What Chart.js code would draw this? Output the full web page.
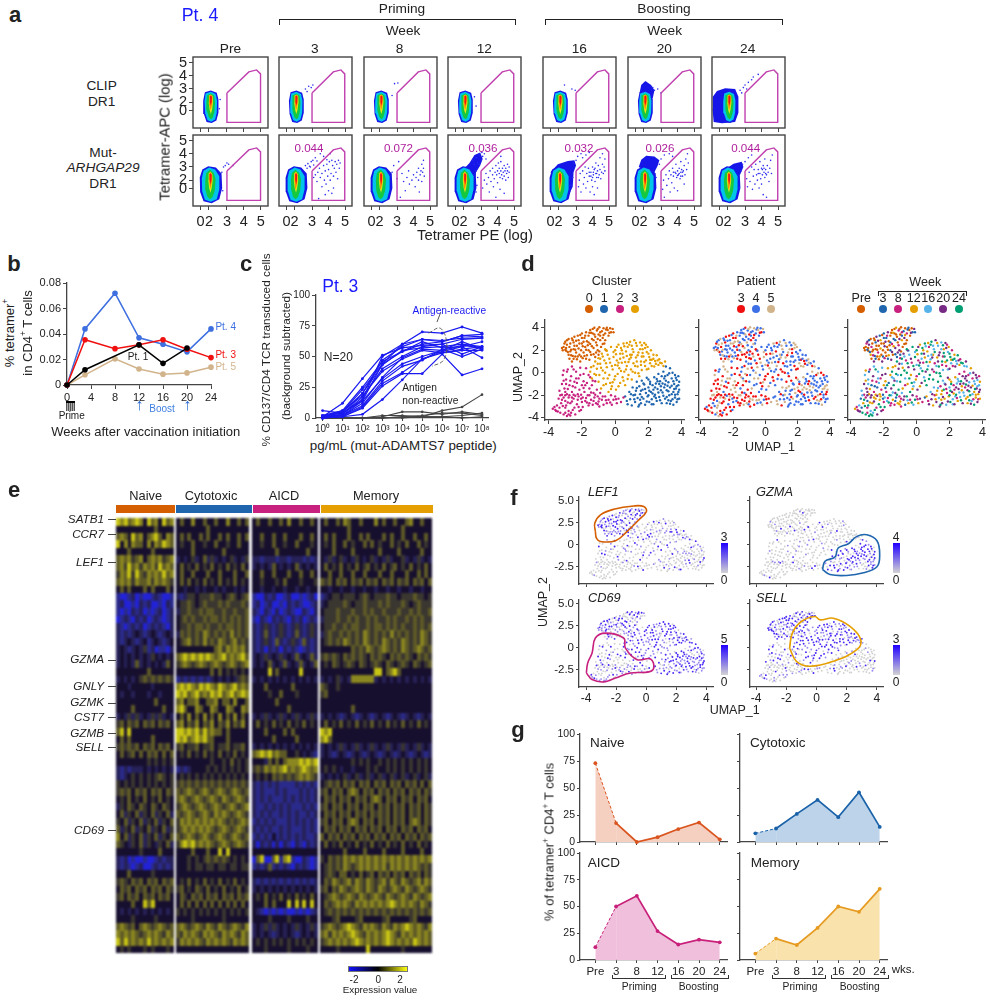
<!DOCTYPE html>
<html>
<head>
<meta charset="utf-8">
<title>Tetramer+ CD4 T cells</title>
<script src="https://cdn.jsdelivr.net/npm/chart.js@4"></script>
<style>
  body { margin: 0; background: #fff; }
  #page { position: relative; width: 990px; height: 1000px; overflow: hidden; font-family: "Liberation Sans", Arial, sans-serif; color: #222; }
  #page canvas { position: absolute; }
  .t { position: absolute; white-space: nowrap; line-height: 1; }
  .t sup { font-size: 65%; line-height: 0; }
  .box { position: absolute; box-sizing: border-box; }
</style>
</head>
<body>
<div id="page"></div>
<script>
// ---- panel a: flow plots ----
const flowWeeks = ['Pre', '3', '8', '12', '16', '20', '24'];
const flowLeft = [192.5, 276.9, 361.6, 446.3, 541.3, 626.3, 709.7];
const flowPercent = ['', '0.044', '0.072', '0.036', '0.032', '0.026', '0.044'];
const gateOutline = [[3,2.69],[4.29,4.29],[4.75,4.44],[4.98,4.14],[4.98,0.47],[3,0.47],[3,2.69]];
const densityColors = ['#1616e8', '#00c4e8', '#14c840', '#e8e814', '#ff8c00', '#f01414'];
const clipBlob = [
  [[1.7,2.75],[2.05,2.88],[2.4,2.72],[2.5,2.2],[2.5,1.2],[2.38,0.6],[2.1,0.42],[1.8,0.5],[1.64,1.1],[1.6,2.1],[1.7,2.75]],
  [[1.74,2.65],[2.05,2.78],[2.33,2.62],[2.42,2.1],[2.4,1.2],[2.3,0.68],[2.08,0.52],[1.86,0.62],[1.72,1.15],[1.68,2.05],[1.74,2.65]],
  [[1.84,2.52],[2.05,2.66],[2.24,2.5],[2.3,2],[2.26,1.25],[2.16,0.82],[2.06,0.7],[1.93,0.85],[1.82,1.35],[1.79,2],[1.84,2.52]],
  [[1.94,2.5],[2.05,2.58],[2.16,2.46],[2.18,2],[2.12,1.4],[2.05,1.1],[1.98,1.4],[1.92,2],[1.94,2.5]],
  [[1.96,2.48],[2.05,2.55],[2.14,2.44],[2.14,2],[2.08,1.6],[2.03,1.4],[1.98,1.7],[1.95,2.1],[1.96,2.48]],
  [[2,2.45],[2.06,2.5],[2.12,2.4],[2.1,2],[2.05,1.75],[2,2],[2,2.45]]
];
const mutBlob = [
  [[1.55,2.8],[1.9,3.05],[2.35,2.95],[2.68,2.5],[2.72,1.4],[2.55,0.55],[2.1,0.25],[1.62,0.4],[1.42,1.1],[1.4,2.2],[1.55,2.8]],
  [[1.62,2.72],[1.95,2.95],[2.3,2.8],[2.55,2.3],[2.55,1.3],[2.4,0.55],[2.05,0.36],[1.7,0.52],[1.54,1.15],[1.52,2.15],[1.62,2.72]],
  [[1.78,2.55],[2,2.78],[2.22,2.55],[2.33,2.05],[2.28,1.2],[2.15,0.72],[2,0.55],[1.85,0.75],[1.74,1.25],[1.72,2],[1.78,2.55]],
  [[1.92,2.5],[2.03,2.65],[2.14,2.45],[2.16,2],[2.1,1.4],[2.03,1.05],[1.95,1.4],[1.9,2],[1.92,2.5]],
  [[1.95,2.48],[2.03,2.6],[2.12,2.42],[2.12,2],[2.07,1.6],[2.02,1.35],[1.97,1.7],[1.94,2.1],[1.95,2.48]],
  [[1.98,2.45],[2.04,2.52],[2.1,2.4],[2.09,2],[2.04,1.65],[1.99,2],[1.98,2.45]]
];
const clip20Cloud = [[1.7,2.7],[1.8,3.3],[2.05,3.6],[2.4,3.3],[2.6,2.9],[2.5,2.3],[1.7,2.7]];
const clip24Cloud = [[1.05,2.4],[1.3,2.85],[1.8,3.05],[2.4,3.0],[2.6,2.4],[2.6,1.2],[2.4,0.5],[1.6,0.4],[1.1,0.5],[1.03,1.5],[1.05,2.4]];
const mut12Cloud = [[2,2.9],[2.3,3.3],[2.6,3.9],[2.95,4.1],[3.1,3.6],[2.95,3.1],[2.7,2.6],[2.6,2],[2.2,2.5],[2,2.9]];
const mut16Cloud = [[1.45,2.6],[1.9,3.2],[2.5,3.45],[2.9,3.5],[3,3.1],[2.85,2.6],[2.8,1.5],[2.6,1],[2.3,2],[1.45,2.6]];
const mut20Cloud = [[1.65,3],[1.8,3.55],[2.1,3.85],[2.6,3.8],[2.9,3.5],[2.8,3.1],[2.6,2.6],[2.1,2.7],[1.65,3]];
const mut24Cloud = [[1.9,2.9],[2.3,3.25],[2.8,3.4],[2.9,3],[2.7,2.4],[2.4,2.5],[1.9,2.9]];
const clipDots = [
  [[2.6,2.2],[2.55,1.5]],
  [[2.6,3],[2.8,3.2],[2.95,3.1],[3.05,3.3],[2.7,2.8]],
  [[2.7,2.5],[2.85,3.4],[3.05,3.45]],
  [[2.6,2.4],[2.7,1.7]],
  [[2.3,3.3],[2.75,3],[2.95,2.9]],
  [[2.5,3.1],[2.8,3.0],[3.0,2.7],[2.6,2.9]],
  [[2.7,2.9],[2.9,3.1],[3,3.3],[3.2,3.5],[3.4,3.7],[3.5,3.9],[3.8,4.1],[3.1,3],[2.8,2.7]]
];
const mutPreDots = [[2.7,2.6],[2.8,3],[2.9,3.1],[3,3.3],[3.1,3.2],[2.75,1.2],[3.35,3.1]];
const mut3Dots = [[2.6,3.1],[2.7,2.9],[2.75,3.25],[2.85,3.05],[2.95,3.4],[3.05,3.5],[3.1,3.15],[2.9,3.0],[3.2,3.7],[3.3,3.45],[3.5,4],[3.7,3.8],[3.9,3.55],[4.1,4.0],[4.2,3.5],[3.1,2.2],[3.2,2.4],[3.3,1.9],[3.35,2.6],[3.45,2.9],[3.5,2.2],[3.6,1.5],[3.6,2.5],[3.7,3.1],[3.75,2],[3.8,2.7],[3.85,1.7],[3.9,3.2],[3.95,2.3],[4,1.2],[4,2.8],[4.05,3.4],[4.1,2],[4.15,2.5],[4.2,1],[4.25,3.1],[4.3,2.3],[4.35,2.9],[4.4,3.4],[4.45,2.6],[4.5,3.2],[4.55,2.1],[4.6,3.5],[4.65,2.9],[4.7,3.3],[3.4,0.6],[3.8,0.9],[4.3,1.4]];
const mut8Dots = [[2.7,2.6],[2.8,3.1],[3.1,3.4],[3,2.1],[3.3,2.5],[3.4,1.9],[3.5,1.2],[3.6,2.2],[3.7,2.7],[3.75,1.7],[3.9,2],[4,2.4],[4.1,1.5],[4.15,2.2],[4.2,2.6],[4.3,2],[4.3,2.9],[4.4,2.4],[4.45,2.7],[4.5,3.2],[4.55,2.6],[4.6,2.9],[4.6,3.5],[4.65,2.3],[3.2,0.7],[4.35,1.1],[4.5,1.9]];
const mut12Dots = [[3.1,1.4],[3.2,2],[3.3,2.5],[3.35,1.7],[3.45,2.2],[3.5,1.1],[3.55,2.7],[3.6,1.9],[3.7,2.4],[3.7,2.9],[3.75,1.5],[3.8,2.1],[3.85,2.6],[3.9,3.1],[3.95,2.4],[4,2.7],[4,1.8],[4.05,3.3],[4.1,2.5],[4.1,2.9],[4.15,2.2],[4.15,1.3],[4.2,2.7],[4.2,3.4],[4.25,2.4],[4.3,2.9],[4.3,2.1],[4.35,2.6],[4.4,3.1],[4.4,2.3],[4.45,2.7],[4.5,2.9],[4.5,2],[4.55,2.5],[4.6,3.2],[4.6,2.7],[4.65,2.2],[4.7,2.6],[4.7,3],[4.4,1.0],[3.9,0.7],[4.2,3.8],[2.6,3.2],[2.7,3.7],[2.8,3.3],[2.9,3.9],[3,3.5],[3.1,3.8],[3.2,4],[3.3,3.6],[2.5,3.5],[2.9,3.2],[3.05,4.1],[2.7,2.7],[2.8,2.2],[2.75,1.6],[2.7,1.1]];
const mut16Dots = [[2.7,1.6],[2.8,2.2],[2.85,3.3],[3,3.5],[3.1,3.8],[3.3,4],[3.4,3.7],[3.6,3.9],[3.8,4.1],[3.15,1.5],[3.2,2],[3.25,2.5],[3.3,1.1],[3.4,2.7],[3.45,1.7],[3.5,2.2],[3.55,3],[3.6,1.4],[3.65,2.5],[3.7,1.9],[3.75,2.9],[3.8,2.3],[3.85,1.1],[3.9,2.6],[3.95,2],[4,3],[4,1.5],[4.05,2.4],[4.1,2.8],[4.1,0.9],[4.15,1.9],[4.2,2.5],[4.2,3.3],[4.25,2.2],[4.3,2.7],[4.3,1.4],[4.35,3.1],[4.4,2.4],[4.45,2.8],[4.45,3.7],[4.5,2.1],[4.55,2.6],[4.6,3.2],[4.6,4],[4.65,2.5],[4.7,3],[4.75,3.6],[4.75,2.7],[3.9,2.3],[4.05,2.6],[4.15,2.9],[4.25,2.5],[4.35,2.2],[3.8,2.6],[4,2.2]];
const mut20Dots = [[2.7,2.2],[2.9,3.2],[3,3.6],[3.2,3.9],[3.5,4],[3.7,3.8],[3.1,1.3],[3.15,2],[3.2,0.7],[3.3,2.4],[3.35,1.6],[3.45,2.1],[3.5,2.7],[3.55,1.1],[3.6,2.4],[3.65,1.8],[3.7,2.9],[3.75,2.3],[3.8,1.4],[3.85,2.6],[3.9,3.2],[3.95,2.2],[4,2.7],[4,1.2],[4.05,2.4],[4.1,2.9],[4.15,2.1],[4.2,2.6],[4.2,3.4],[4.25,2.8],[4.3,2.3],[4.35,2.7],[4.4,3.1],[4.4,1.7],[4.45,2.4],[4.5,3.6],[4.55,2.8],[4.6,4.0],[4.65,3.3],[3.9,2.5],[4.1,2.5],[4.3,2.6],[3.75,2.6],[4.0,2.35],[4.2,2.3]];
const mut24Dots = [[2.6,2.1],[2.65,1.4],[2.75,2.7],[2.85,3.2],[3,3.4],[3.2,3.7],[3.4,3.9],[3.1,2.1],[3.15,1.5],[3.25,2.6],[3.3,1.9],[3.4,3],[3.45,1.3],[3.5,2.3],[3.55,2.8],[3.6,1.7],[3.65,3.2],[3.7,2.4],[3.75,2],[3.8,2.8],[3.85,1.4],[3.9,2.5],[3.9,3.4],[3.95,2.1],[4,2.9],[4,1.7],[4.05,2.4],[4.1,3.1],[4.1,0.9],[4.15,2.6],[4.2,2.2],[4.2,3.6],[4.25,2.8],[4.3,2.4],[4.35,3.1],[4.4,2.6],[4.45,1.9],[4.5,2.9],[4.55,3.5],[4.6,2.5],[4.65,3.9],[4.3,0.7],[3.8,2.5],[4.05,2.8],[4.15,2.9],[4.25,2.5]];
const mutDots = [mutPreDots, mut3Dots, mut8Dots, mut12Dots, mut16Dots, mut20Dots, mut24Dots];
const clipClouds = [null, null, null, null, null, clip20Cloud, clip24Cloud];
const mutClouds = [null, null, null, mut12Cloud, mut16Cloud, mut20Cloud, mut24Cloud];

// ---- panel b ----
const weeksB = [0, 3, 8, 12, 16, 20, 24];
const pt5Values = [0, 0.008, 0.0205, 0.0125, 0.0085, 0.0095, 0.014];
const pt4Values = [0, 0.044, 0.072, 0.037, 0.032, 0.026, 0.044];
const pt3Values = [0, 0.0355, 0.0285, 0.0315, 0.0355, 0.028, 0.0215];
const pt1Values = [0, 0.012, null, 0.0315, 0.017, 0.029, null];

// ---- panel c ----
const doses = [1, 10, 100, 1e3, 1e4, 1e5, 1e6, 1e7, 1e8];
const doseLabels = ['10⁰', '10¹', '10²', '10³', '10⁴', '10⁵', '10⁶', '10⁷', '10⁸'];
const reactiveCurves = [
  [2,4,14,44,60,70,69,74,69], [6,4,15,50,60,64,62,67,68], [1,3,20,47,58,64,63,65,65],
  [1,12,32,51,57,59,60,64,65], [1,6,25,46,54,62,57,58,62], [2,5,23,44,54,60,62,67,66],
  [0,5,20,43,55,57,58,60,58], [1,3,17,40,50,58,60,52,58], [1,2,12,33,49,56,55,59,57],
  [0,2,14,32,44,50,55,62,56], [1,2,10,30,42,47,56,50,56], [0,1,9,28,37,48,54,58,49],
  [0,1,8,26,36,36,52,35,40], [0,1,3,15,31,48,53,55,55], [2,6,18,38,48,55,53,56,58]
];
const nonReactiveCurves = [
  [0,0,0,0,1,1,6,9,19], [0,0,0,1,5,5,3,5,3], [0,0,0,0,1,2,4,4,2], [0,0,0,0,0,1,1,2,4], [0,0,0,2,2,1,1,0,1]
];
const reactiveArc = [[2.1e5,69],[8e5,73],[1.7e6,61],[1.15e6,47],[3.1e5,42]];
const reactiveLeader = [[5.5e5,78],[8.5e5,86]];

// ---- panels d and f: UMAP cells by cluster ----
const cluster0 = [[-3.2,2.2],[-3.1,2.3],[-3,2.05],[-2.9,2.5],[-2.9,2.9],[-2.8,3],[-2.75,2.3],[-2.7,1.9],[-2.8,1.6],[-2.75,1.25],[-2.6,1.0],[-2.55,1.5],[-2.5,2.1],[-2.5,2.7],[-2.45,3.2],[-2.35,1.8],[-2.3,1.2],[-2.3,2.4],[-2.25,3.3],[-2.2,2.9],[-2.15,1.6],[-2.1,1.0],[-2.05,2.0],[-2,3.5],[-2,2.6],[-1.95,1.3],[-1.9,1.8],[-1.85,3.1],[-1.8,2.3],[-1.75,3.6],[-1.7,1.55],[-1.7,2.8],[-1.6,3.3],[-1.6,2.0],[-1.55,1.15],[-1.5,3.8],[-1.5,2.55],[-1.45,1.6],[-1.4,3.0],[-1.35,3.5],[-1.3,2.2],[-1.25,4.0],[-1.2,3.2],[-1.2,1.4],[-1.15,2.7],[-1.1,3.75],[-1.05,2.0],[-1,3.4],[-1,1.6],[-0.95,4.05],[-0.9,2.9],[-0.85,2.3],[-0.8,3.7],[-0.75,3.1],[-0.7,3.95],[-0.65,2.6],[-0.6,3.5],[-0.55,2.0],[-0.5,4.0],[-0.45,3.8],[-0.4,3.3],[-0.3,3.95],[-0.25,3.6],[-0.15,3.9],[-0.1,3.6],[-2.65,2.05],[-3.05,2.6],[-2.6,3.05],[-2.2,2.15],[-1.65,2.45],[-1.9,2.75],[-1.3,2.9],[-2.4,1.45],[-1.75,1.25],[-1.15,1.8],[-0.9,3.6],[-2.95,1.95],[-2.45,2.4],[-2.0,3.1],[-1.45,3.55],
  [-3.15,2.0],[-3.0,2.75],[-2.95,2.2],[-2.85,1.85],[-2.7,2.6],[-2.65,1.55],[-2.55,2.9],[-2.5,1.25],[-2.4,2.05],[-2.35,2.85],[-2.25,1.45],[-2.15,2.6],[-2.1,3.35],[-2.05,1.45],[-1.95,2.35],[-1.85,1.5],[-1.8,3.3],[-1.75,2.05],[-1.6,2.7],[-1.55,3.55],[-1.5,1.85],[-1.4,2.35],[-1.35,3.9],[-1.3,1.65],[-1.25,3.4],[-1.1,2.45],[-1.05,3.0],[-0.95,1.9],[-0.9,3.3],[-0.75,2.55],[-0.7,3.35],[-0.6,2.9],[-0.55,3.85],[-0.35,3.55],[-1.05,3.9]];
const cluster1 = [[0.6,-2.1],[0.75,-2.8],[0.85,-1.7],[0.9,-2.35],[1,-2.9],[1.05,-1.3],[1.1,-2.0],[1.2,-2.6],[1.25,-1.6],[1.3,-0.8],[1.35,-2.25],[1.4,-3.0],[1.45,-1.2],[1.5,-1.9],[1.55,-2.7],[1.6,-0.7],[1.65,-1.5],[1.7,-2.3],[1.75,-1.05],[1.8,-2.85],[1.85,-1.8],[1.9,-0.45],[1.95,-2.1],[2,-1.3],[2.05,-2.6],[2.1,-0.8],[2.15,-1.7],[2.2,-2.35],[2.25,-1.1],[2.3,-2.8],[2.35,-0.4],[2.4,-1.95],[2.45,-0.95],[2.5,-2.5],[2.55,-1.45],[2.6,-0.1],[2.65,-2.15],[2.7,-0.75],[2.75,-1.2],[2.8,-2.7],[2.85,-1.75],[2.9,0.1],[2.95,-0.5],[3,-2.3],[3,-1.05],[3.05,0.55],[3.1,-1.55],[3.1,-2.7],[3.15,-0.2],[3.2,-0.85],[3.25,-2.0],[3.3,0.4],[3.3,-1.3],[3.35,-2.5],[3.4,-0.5],[3.45,0],[3.5,-1.7],[3.5,-2.85],[3.55,-1.0],[3.6,-0.2],[3.6,-2.2],[3.65,-1.4],[3.7,-0.65],[3.7,-2.6],[3.75,-1.9],[3.8,-1.1],[3.8,-0.3],[3.85,-1.5],[3.85,-2.3],[2.1,-1.0],[2.6,-1.75],[3.15,-1.15],[2.3,-1.5],[1.5,-2.4],[2.85,-0.95],[3.4,-1.9],[2.0,-2.0],[1.2,-1.95],[3.0,-0.3],[2.5,-0.55],
  [0.7,-2.5],[0.95,-1.9],[1.15,-2.35],[1.3,-1.35],[1.45,-2.85],[1.55,-1.6],[1.6,-2.15],[1.7,-0.95],[1.8,-1.45],[1.9,-2.55],[2,-0.6],[2.05,-1.6],[2.2,-2.8],[2.25,-1.85],[2.4,-1.3],[2.45,-2.25],[2.55,-0.75],[2.7,-2.45],[2.75,-1.55],[2.8,-0.3],[2.9,-2.05],[2.95,-1.3],[3.05,-0.7],[3.1,-2.15],[3.2,-1.65],[3.25,-0.05],[3.3,-2.75],[3.4,-1.15],[3.45,-2.35],[3.5,-0.75],[3.55,-1.45],[3.6,-1.95],[3.65,-0.45],[3.7,-1.2],[3.75,-2.35],[3.8,-1.7],[3.85,-0.8],[3.2,-2.45],[2.35,-2.1],[2.65,-1.0]];
const cluster2 = [[-3.75,-3.2],[-3.6,-3.3],[-3.5,-2.9],[-3.45,-3.45],[-3.4,-2.3],[-3.3,-3.55],[-3.25,-2.7],[-3.2,-1.95],[-3.2,-1],[-3.15,-0.2],[-3.1,-3.7],[-3.1,-2.2],[-3.1,0.2],[-3.05,-1.4],[-3,-3.1],[-3,-2.5],[-2.95,-0.6],[-2.9,-3.85],[-2.9,-1.9],[-2.85,0.3],[-2.8,-2.2],[-2.8,-3.4],[-2.75,-1.1],[-2.7,-3.8],[-2.7,-2.7],[-2.65,-0.3],[-2.6,-1.7],[-2.6,0.55],[-2.55,-3.3],[-2.5,-2.3],[-2.45,-0.8],[-2.4,-3.7],[-2.4,-1.3],[-2.35,0.1],[-2.3,-2.8],[-2.25,-1.9],[-2.2,-0.5],[-2.15,-3.4],[-2.1,0.45],[-2.05,-2.3],[-2,-1.1],[-1.95,-3.05],[-1.9,-0.1],[-1.85,-1.7],[-1.8,-2.5],[-1.75,0.4],[-1.7,-0.9],[-1.65,-2.0],[-1.6,-2.9],[-1.55,-1.4],[-1.5,-0.4],[-1.45,-2.4],[-1.4,-1.1],[-1.35,-2.85],[-1.3,-1.8],[-1.25,-2.2],[-1.2,-0.75],[-1.15,-2.7],[-1.1,-1.5],[-1.05,-2.1],[-1,-2.55],[-0.95,-3.0],[-0.9,-1.8],[-0.8,-2.4],[-0.7,-2.85],[-0.6,-2.1],[-0.5,-2.7],[-0.4,-2.4],[-0.25,-2.0],[-0.2,-2.85],[-0.1,-2.4],[0,-2.1],[0.1,-2.7],[0.2,-2.3],[0.35,-2.6],[0.5,-2.2],[-3.35,-1.6],[-2.95,-2.9],[-2.5,-1.95],[-2.0,-2.6],[-3.0,-1.7],[-2.3,-0.9],[-1.9,-1.35],[-1.7,-2.65],[-2.85,-1.45],[-2.6,-2.55],[-2.05,-3.3],[-1.55,-2.0],[-3.2,-2.4],[-2.2,-2.1],
  [-3.65,-3.05],[-3.55,-3.4],[-3.35,-3.1],[-3.3,-2.0],[-3.15,-2.95],[-3.1,-0.7],[-3,-3.55],[-3,-2],[-2.95,-1.0],[-2.9,0.1],[-2.85,-2.65],[-2.8,-3.7],[-2.75,-2],[-2.7,-0.7],[-2.65,-3.55],[-2.6,-2.2],[-2.55,-1.2],[-2.5,0.3],[-2.45,-3.1],[-2.4,-2.05],[-2.35,-0.5],[-2.25,-2.4],[-2.2,-3.05],[-2.15,-1.5],[-2.1,-0.2],[-2.05,-1.95],[-1.95,-2.2],[-1.9,-0.75],[-1.8,-1.1],[-1.75,-2.25],[-1.6,-0.2],[-1.55,-2.7],[-1.45,-1.75],[-1.35,-0.7],[-1.3,-2.5],[-1.2,-1.95],[-1.05,-2.8],[-0.95,-2.3],[-0.75,-2.1],[-0.55,-2.45],[-0.3,-2.65],[0.05,-2.35]];
const cluster3 = [[-1.5,0.1],[-1.4,-0.5],[-1.3,0.6],[-1.2,1.0],[-1.1,0.35],[-1,1.3],[-1,-0.8],[-0.9,0.8],[-0.85,-1.4],[-0.8,1.7],[-0.75,0.2],[-0.7,-0.5],[-0.65,1.1],[-0.6,2.1],[-0.55,-1.0],[-0.5,0.5],[-0.45,1.6],[-0.4,-1.7],[-0.35,-0.2],[-0.3,0.9],[-0.25,2.3],[-0.2,-1.2],[-0.15,0.3],[-0.1,1.4],[-0.05,-0.6],[0,2.0],[0,0.7],[0.05,-1.5],[0.1,1.1],[0.15,-0.1],[0.2,2.5],[0.25,0.4],[0.3,1.7],[0.3,-0.9],[0.35,2.2],[0.4,0.9],[0.45,-0.4],[0.5,1.35],[0.5,2.6],[0.55,0.1],[0.6,-1.1],[0.65,1.9],[0.7,0.6],[0.75,2.3],[0.8,-0.2],[0.85,1.2],[0.9,2.75],[0.95,0.3],[1,1.6],[1,-0.6],[1.05,2.1],[1.1,0.85],[1.15,2.9],[1.2,0],[1.25,1.35],[1.3,2.4],[1.35,0.55],[1.4,1.8],[1.45,-0.3],[1.5,2.7],[1.55,1.0],[1.6,0.25],[1.65,2.1],[1.7,1.45],[1.75,2.65],[1.8,0.6],[1.85,1.1],[1.9,1.85],[1.95,2.3],[2,0.35],[2.05,1.4],[2.1,0.85],[2.15,2.0],[2.2,1.15],[2.3,1.6],[2.35,0.55],[2.4,1.05],[2.5,1.55],[2.6,0.7],[2.65,1.2],[2.8,0.85],[2.9,0.6],[3,1.0],[-0.6,0.0],[0.05,1.65],[0.6,0.95],[0.9,1.6],[1.3,1.0],[1.6,1.45],[-0.3,-0.9],[0.4,2.0],[1.0,2.4],[-0.9,1.25],[0.2,0.9],[0.75,-0.55],[1.85,2.5],[-1.15,-0.2],
  [-1.45,0.5],[-1.25,-0.1],[-1.05,0.8],[-0.95,-0.2],[-0.85,0.45],[-0.75,1.45],[-0.7,-1.1],[-0.55,0.85],[-0.5,1.95],[-0.45,-0.5],[-0.35,1.25],[-0.25,-1.45],[-0.2,0.6],[-0.1,1.85],[0,-0.3],[0.1,2.3],[0.15,0.65],[0.2,-1.2],[0.3,1.25],[0.35,0.15],[0.45,1.7],[0.5,-0.7],[0.55,2.35],[0.65,0.3],[0.7,1.5],[0.8,0.95],[0.85,2.5],[0.95,1.35],[1.05,0.1],[1.1,1.85],[1.2,0.6],[1.25,2.65],[1.35,1.55],[1.4,-0.05],[1.5,2.1],[1.55,0.7],[1.65,1.75],[1.75,0.95],[1.8,2.2],[1.9,0.3],[2,1.7],[2.1,1.15],[2.2,0.6],[2.3,1.25],[2.45,0.8],[2.55,1.1],[2.7,0.9],[0.7,2.65],[1.6,2.45],[-0.15,-0.85]];
const clusterCells = [cluster0, cluster1, cluster2, cluster3];
const clusterNames = ['0', '1', '2', '3'];
const clusterColors = ['#d55e00', '#1f66ae', '#c8207f', '#e69f00'];
const patientNames = ['3', '4', '5'];
const patientColors = ['#f01010', '#3d6fe6', '#d2b48c'];
const weekNames = ['Pre', '3', '8', '12', '16', '20', '24'];
const weekColors = ['#d55e00', '#1f66ae', '#c8207f', '#e69f00', '#56b4e9', '#762a83', '#009e73'];
// per-cell codes, one string per cluster
const patientCodes = [
  '110212011021100121012110221011021101201120102110120110211012',
  '121102121011211012112012110121201121102112101211012112101210',
  '000200120210002102012020001202100210200120021002012002100200',
  '110120112012101201121012012110120112012110210120112010211201'
];
const weekCodes = [
  '001510203051015200130501020105300150201053010250103015002510',
  '354534253645235463542534635425364352463542536453246354253645',
  '324516325462352146325416352463251463254136524316254362514362',
  '643652643564263546326456364526346562436563426465364256346564'
];
const lef1Codes = [
  '212012102120121021201120212102120121102120120212012101212012',
  '001000020010001000200100010002001000100020001000100200010001',
  '000100000200000100000020000100000100002000010000001000200000',
  '010200100120010002100201001020001201002100102001020010120010'
];
const gzmaCodes = [
  '000000100000000200000000010000000000020000000100000000000200',
  '120212021012201210220120212101220120212012201210220120212012',
  '000100000020000000100000000200000001000000100000020000000100',
  '000010000200000100000001000000200000100000010000020000001000'
];
const cd69Codes = [
  '120102120012102012001210201201012010212012010210120120102120',
  '212121021212102121221012121021212210212121021212101212121021',
  '010201002010120100201002010010201200100201001020100120010201',
  '212101212212021212120212121012212102121221202121012121210212'
];
const sellCodes = [
  '212021202121012120212102120212012120212021210212021212012102',
  '000100020000100001000020001000100000200010000100002000100000',
  '100201000201010020010100201000102001000201010020100010200100',
  '212122021212212102121221212021221212012212122102121221202121'
];
const exprColors = ['#d2d2d2', '#9c8cf0', '#4a28f5'];
const lef1Outline = [[-3.38,1.5],[-3.42,2.43],[-3.04,3.37],[-2.16,4.0],[-0.82,4.38],[-0.16,4.31],[0.02,3.75],[-0.49,2.81],[-1.27,1.5],[-2.04,0.45],[-3.04,0.37],[-3.31,0.75],[-3.38,1.5]];
const gzmaOutline = [[0.4,-2.8],[0.56,-1.87],[1.22,-1.39],[1.44,-0.37],[2.11,0.11],[2.67,0.94],[3.33,1.12],[4,0.45],[4.18,-1.12],[4,-2.5],[3.11,-3.18],[2,-3.48],[0.89,-3.37],[0.4,-2.8]];
const cd69Outline = [[-3.98,-2.85],[-3.89,-1.72],[-3.6,-0.6],[-3.38,1.09],[-2.71,1.65],[-1.49,1.09],[-1.38,-0.04],[-0.6,-1.35],[0.29,-1.27],[0.51,-2.28],[0.18,-2.73],[-1.04,-2.85],[-2.04,-3.41],[-2.82,-3.86],[-3.6,-3.6],[-3.98,-2.85]];
const sellOutline = [[-1.78,-0.04],[-1.6,1.65],[-1,2.96],[-0.11,3.52],[0.22,3.15],[1.11,3.33],[2.22,2.4],[2.93,0.9],[2.67,-0.22],[1.11,-1.54],[-0.44,-2.1],[-1.33,-1.54],[-1.78,-0.04]];

// ---- panel e: heat map, one row per gene, groups split by a space, digit = colour bin ----
const heatBins = ['#2222d8', '#2a2a8c', '#262158', '#170f2e', '#3a3630', '#5e5a26', '#8a8620', '#c8c414'];
const heatGroups = ['Naive', 'Cytotoxic', 'AICD', 'Memory'];
const heatGroupStart = [0, 15.5, 35.4, 53];
const heatGenes = ['SATB1', 'CCR7', 'LEF1', 'GZMA', 'GNLY', 'GZMK', 'CST7', 'GZMB', 'SELL', 'CD69'];
const heatGeneRows = [0.3, 2.3, 6, 18.9, 22.4, 24.6, 26.5, 28.6, 30.5, 41.4];
const heatRows = [
  '767567637563756 3533633533533633535 35335335363353353 35335365335333635335335633533',
  '333333333353333 3333333353333333333 33333333333333333 33333335333333333333353333333',
  '565375635675365 3535335353353533535 33533533533353353 35353335335353335353353353353',
  '736365536365765 3433533433533433533 33433533433533343 34353353433535343353435335343',
  '333533333533333 3333533333335333333 33333353333333533 33353333533333353333533333533',
  '565645635656456 2323423524232342324 22122212212221212 32423423243234232423342324232',
  '564756465647565 3534353435343534353 23232532323523232 35343534353453435345343534353',
  '465747546565756 3533533353353335335 33533533353353353 33533533533533353353335335353',
  '565646556465654 3535343534353435343 33433343533343334 54535453545354535453545354535',
  '353533353533353 3323323233232332323 33233233233233233 33233233233233233233233233233',
  '100120100121001 2124434445443454345 10021200120010120 12344344434543444544344454434',
  '120010212001021 3445434544454544454 12012001021210012 23444454344544454544454345444',
  '101021201012012 2445445455445445445 21021020121002102 34445444544545445444544545445',
  '012102120121012 3454544545545454545 10210212102120121 24445445454454544545445454544',
  '210121201212102 3445455454454554545 21242124212421242 34454454554454554545454454545',
  '212123212321232 2545454654545464545 21252124212521242 24544545454654545464545454654',
  '212321231232123 3456454645465456454 21242152124215212 34545465454654546545465454654',
  '232123241201102 3333333333564656564 21202120212101212 33333333545465456545465456545',
  '232323232432323 5676767676567565675 23242324232523252 45454354545435454354545435454',
  '232325232323253 4565456545654565456 23235232523252325 34354345435434543543454354345',
  '333333335333333 3333333335353434343 33337353333373333 33333333333333773567533333333',
  '232323454545454 1212121212323232454 23232323232323232 23234232666666232323232323232',
  '333233333233333 6767657676576567565 33353333335333333 54334333333333333333333333333',
  '323323332332333 7675675657675675676 33334335333433333 45333333333333333333333333333',
  '333333333353333 5635563355635536335 33333353333333333 33333333333333333333333333333',
  '333353333333533 6753365336533653365 33333333353333333 33333333533333333333333333333',
  '232424232424232 3536353635363536353 23242324232423242 23232123212321232123212321232',
  '453545354535453 5635463546354635463 35343534353435343 35343534353435343534353435343',
  '573733333333333 7767675756553533333 33353333535333333 76733333333333333333333333333',
  '353533333533333 7675676755333533333 33333533333533333 67533333333333333333333333333',
  '454545354535453 4534453445344534453 23232323232323232 23232423242324232423242324232',
  '353453535453535 3435343534353435343 56767565533432321 23212321232123212321232123212',
  '333333334343434 3333333334334353434 33325353566676767 33333333434343343434343434343',
  '212122232323232 1212333343434343434 45465656756567656 34343233233343433434343434343',
  '212343434345434 3434343434343434343 34343545454565654 23232342342342342342342342342',
  '434343434343434 4545454545454545454 21212121111212121 34545354535453545354535453535',
  '454535453545354 5456545654565456545 21211121211121212 45354535653545354535453545354',
  '343534353435343 5654565456546545654 21212111212121212 35453545354535653545354535453',
  '243543543543543 4565456545654565456 21121212121112121 45354535453545354535453545354',
  '352435243524352 5456545654656545654 21212112121211212 35453545354535454535453545354',
  '435243524352435 4656565656565454565 12121211121212121 45354535653545354535453565354',
  '524352435243524 4565656565456545654 21212112121112121 35453545354535453545354535453',
  '635243524352435 5456545654565456545 12121312121212112 53545354535453545354535453545',
  '543243524324352 4676756565456545654 20212020210210212 35343534353435343534353435343',
  '333333433335333 3333533353373733333 33333333333333333 33333353333533335333353333533',
  '212010010012122 3334343454545434343 05700571671002101 43545465656565656565656565656',
  '212101200121212 3334344344344344344 12125121210212101 34545465456565656465656565454',
  '333533333433333 3333333333333333333 33333333333333333 34543553435345354535453545354',
  '454354535453545 3435343534353435343 21212121212121212 35465456465465456465465456465',
  '354535453545354 4534354353435343534 23232323232323232 45354654565465465456546545654',
  '453545354535453 3543545354535453545 34353435343534353 34565456546545654654565465456',
  '333353375733333 3535353535353535353 33353533373737373 35456565465656565676565654654',
  '323232323232323 4343434343434343434 32101010100101012 34545454545454545454545454545',
  '333343333343333 3333433333334333333 33334333343333433 33345333345333334533333453333',
  '565453565456545 5654565465465456546 23242423232423242 45654567654656546546567656546',
  '656565456565465 5465654656546565465 23232123232123232 56465656765465656765465656565',
  '757565657565656 4656565465656546565 34343434343434343 45656565676565656765656576565',
  '343433343433343 3333333333333333333 33343333343333433 33334333333373333333343333333'
];

// ---- panel g ----
const stageLabels = ['Pre', '3', '8', '12', '16', '20', '24'];
const naiveShare = [73, 17.5, 0, 4.5, 12, 18, 2.5];
const cytotoxicShare = [8, 12.5, 26, 39, 23, 46, 14];
const aicdShare = [12, 50, 60, 27, 14.5, 19, 16.5];
const memoryShare = [6, 20, 14, 30, 50, 45, 66.5];

// ---- helpers ----
Chart.defaults.font.family = '"Liberation Sans", Arial, sans-serif';
Chart.defaults.color = '#222';
const page = document.getElementById('page');

function txt(html, x, y, size, o = {}) {
  const d = document.createElement('div');
  d.className = 't';
  d.innerHTML = html;
  d.style.left = x + 'px';
  d.style.top = y + 'px';
  d.style.fontSize = size + 'px';
  if (o.color) d.style.color = o.color;
  if (o.italic) d.style.fontStyle = 'italic';
  if (o.bold) d.style.fontWeight = 'bold';
  d.style.transform = (o.left ? 'translate(0,-50%)' : 'translate(-50%,-50%)') + (o.rot ? ' rotate(-90deg)' : '');
  page.appendChild(d);
}

function rect(x, y, w, h, css) {
  const d = document.createElement('div');
  d.className = 'box';
  d.style.cssText = `left:${x}px;top:${y}px;width:${w}px;height:${h}px;${css}`;
  page.appendChild(d);
}

// axis with tick values picked by hand
function axis(min, max, values, labels, size, o = {}) {
  return Object.assign({
    type: 'linear', min, max,
    afterBuildTicks: s => { s.ticks = values.map(v => ({ value: v })); },
    ticks: {
      autoSkip: false, maxRotation: 0, minRotation: 0, color: '#222', padding: o.pad === undefined ? 2 : o.pad,
      font: { size: size, style: o.style || 'normal' },
      callback: (v, i) => labels ? labels[i] : String(v)
    },
    grid: { drawOnChartArea: false, tickLength: o.tick === undefined ? 4 : o.tick, tickColor: '#444', tickWidth: 1 },
    border: { display: o.line !== false, color: '#444', width: o.lineWidth || 1.3 }
  }, o.extra || {});
}

const frameBox = {
  id: 'frameBox',
  afterDatasetsDraw(chart) {
    const a = chart.chartArea, c = chart.ctx;
    c.save();
    c.strokeStyle = '#444';
    c.lineWidth = 1.4;
    c.strokeRect(a.left, a.top, a.right - a.left, a.bottom - a.top);
    c.restore();
  }
};

// the plot area stays where it was asked for, label overflow must not shrink it
function pinScale(s, side, size) {
  s[side] = size;
  s.paddingLeft = s.paddingRight = s.paddingTop = s.paddingBottom = 0;
}

// box is the plot area in page pixels, l/b/t/r the room kept around it
function plot(box, l, b, t, r, scales, datasets, plugins) {
  const c = document.createElement('canvas');
  c.width = Math.round(box.w + l + r);
  c.height = Math.round(box.h + t + b);
  c.style.left = (box.x - l) + 'px';
  c.style.top = (box.y - t) + 'px';
  page.appendChild(c);
  scales.x.afterFit = s => pinScale(s, 'height', b);
  scales.y.afterFit = s => pinScale(s, 'width', l);
  return new Chart(c, {
    type: 'scatter',
    // Chart.js paints the first dataset last, the panels list them bottom to top
    data: { datasets: datasets.slice().reverse() },
    plugins: plugins || [],
    options: {
      responsive: false, animation: false, events: [],
      layout: { padding: { top: t, right: r, left: 0, bottom: 0 } },
      plugins: { legend: { display: false }, tooltip: { enabled: false } },
      scales
    }
  });
}

function dots(data, color, radius) {
  return { data, showLine: false, pointRadius: radius, pointBorderWidth: 0, pointBackgroundColor: color, clip: false };
}
function shape(data, color) {
  return { data, showLine: true, fill: 'shape', backgroundColor: color, borderWidth: 0, pointRadius: 0 };
}
function outline(data, color, width, tension) {
  return { data, showLine: true, fill: false, borderColor: color, borderWidth: width, pointRadius: 0, tension: tension || 0, clip: false };
}

// ---- draw panel a ----
function flowPlot(x, y, h, blob, cloud, extraDots, showX, showY) {
  const sets = [];
  if (cloud) sets.push(shape(cloud, densityColors[0]));
  blob.forEach((p, i) => sets.push(shape(p, densityColors[i])));
  sets.push(dots(extraDots, '#2a2af0', 0.8));
  sets.push(outline(gateOutline, '#c040b0', 1.4));
  const scales = {
    x: axis(1, 5.42, [1.45, 1.94, 3, 4, 5], showX ? ['0', '2', '3', '4', '5'] : ['', '', '', '', ''], 14.5, { line: false, tick: 4, pad: 3 }),
    y: axis(0.04, 5.42, showY ? [5, 4, 3, 2, 1.35] : [], ['5', '4', '3', '2', '0'], 14.5, { line: false, tick: 4, pad: 2 })
  };
  plot({ x, y, w: 75.5, h }, showY ? 22 : 2, showX ? 24 : 6, 6, 3, scales, sets, [frameBox]);
}
flowLeft.forEach((x, i) => {
  flowPlot(x, 56.5, 70.5, clipBlob, clipClouds[i], clipDots[i], false, i === 0);
  flowPlot(x, 135, 71, mutBlob, mutClouds[i], mutDots[i], true, i === 0);
  txt(flowWeeks[i], x + 38, 49, 13.7);
  if (flowPercent[i]) txt(flowPercent[i], [0, 309, 398.4, 483, 579, 660, 745.7][i], 148, 11.6, { color: '#b0209e' });
});
txt('a', 15, 15, 22, { bold: true });
txt('Pt. 4', 200, 16, 17.8, { color: '#1a1aff' });
txt('Priming', 402, 9, 13.7);
txt('Week', 403, 31, 13.7);
rect(279, 19, 237, 6, 'border:1.4px solid #222;border-bottom:none');
txt('Boosting', 664, 9, 13.7);
txt('Week', 664.7, 31, 13.7);
rect(545, 19, 238, 6, 'border:1.4px solid #222;border-bottom:none');
txt('CLIP', 101.6, 86, 13.7);
txt('DR1', 101.6, 101.7, 13.7);
txt('Mut-', 103, 152.7, 13.7);
txt('ARHGAP29', 103, 168, 13.7, { italic: true });
txt('DR1', 103, 184, 13.7);
txt('Tetramer-APC (log)', 164.6, 137, 14.8, { rot: true });
txt('Tetramer PE (log)', 475, 235, 14.8);

// ---- draw panel b ----
function weekLine(values, color) {
  return {
    data: weeksB.map((w, i) => [w, values[i]]), showLine: true, spanGaps: true, fill: false, clip: false,
    borderColor: color, borderWidth: 1.5, pointRadius: 2.8, pointBorderWidth: 0, pointBackgroundColor: color
  };
}
plot({ x: 66.7, y: 282.7, w: 144, h: 102 }, 34, 20, 8, 10, {
  x: axis(0, 24, [0, 4, 8, 12, 16, 20, 24], null, 11),
  y: axis(0, 0.08, [0, 0.02, 0.04, 0.06, 0.08], ['0', '0.02', '0.04', '0.06', '0.08'], 11)
}, [weekLine(pt5Values, '#d2b48c'), weekLine(pt4Values, '#3d6fe0'), weekLine(pt3Values, '#f01010'), weekLine(pt1Values, '#000')]);
txt('b', 14, 264, 22, { bold: true });
txt('% tetramer<sup>+</sup>', 9, 333, 13, { rot: true });
txt('in CD4<sup>+</sup> T cells', 27, 333, 13, { rot: true });
txt('Pt. 4', 225.7, 326.7, 10, { color: '#3d6fe0' });
txt('Pt. 3', 225.7, 355, 10, { color: '#f01010' });
txt('Pt. 5', 225.7, 366.7, 10, { color: '#d2b48c' });
txt('Pt. 1', 138, 356.7, 10);
rect(66, 400.7, 9, 10, 'background:repeating-linear-gradient(90deg,#555 0 1px,#aaa 1px 2px);border-top:2px solid #000');
txt('Prime', 71.7, 416, 10);
txt('↑', 139.3, 405, 16, { color: '#1f66d0', bold: true });
txt('↑', 187.3, 405, 16, { color: '#1f66d0', bold: true });
txt('Boost', 162, 409, 10, { color: '#3d7fe0' });
txt('Weeks after vaccination initiation', 145.7, 431, 13);

// ---- draw panel c ----
function doseLine(values, color, width, radius) {
  return {
    data: doses.map((d, i) => [d, values[i]]), showLine: true, fill: false, clip: false,
    borderColor: color, borderWidth: width, pointRadius: radius, pointBorderWidth: 0, pointBackgroundColor: color
  };
}
const dashedArc = Object.assign(outline(reactiveArc, '#555', 0.9, 0.4), { borderDash: [4, 2] });
plot({ x: 316, y: 295.3, w: 172, h: 122.7 }, 26, 20, 8, 6, {
  x: axis(0.468, 2e8, doses, doseLabels, 10, { extra: { type: 'logarithmic' }, pad: 2, tick: 3 }),
  y: axis(0, 100, [0, 25, 50, 75, 100], null, 10)
}, nonReactiveCurves.map(v => doseLine(v, '#444', 1.1, 1.3))
  .concat(reactiveCurves.map(v => doseLine(v, '#1a1af0', 1.2, 1.4)))
  .concat([dashedArc, outline(reactiveLeader, '#444', 0.9)]));
txt('c', 246, 264, 22, { bold: true });
txt('Pt. 3', 340.3, 286.7, 17.5, { color: '#1a1aff' });
txt('N=20', 338.3, 357.3, 12);
txt('Antigen-reactive', 449.3, 311, 10.2, { color: '#1a1af0' });
txt('Antigen', 402.3, 388.3, 10.2, { left: true });
txt('non-reactive', 402.3, 400.7, 10.2, { left: true });
txt('% CD137/CD4 TCR transduced cells', 266.7, 350, 11.8, { rot: true });
txt('(background subtracted)', 286.7, 356, 11.8, { rot: true });
txt('pg/mL (mut-ADAMTS7 peptide)', 403.3, 445.7, 13.4);

// ---- draw panel d ----
function codedCells(codes, count) {
  const groups = Array.from({ length: count }, () => []);
  clusterCells.forEach((cells, c) => cells.forEach((p, i) => {
    groups[+codes[c][i % codes[c].length]].push(p);
  }));
  return groups;
}
function umapD(box, xr, groups, colors, showY) {
  plot(box, showY ? 22 : 6, 20, 6, 8, {
    x: axis(xr[0], xr[1], [-4, -2, 0, 2, 4], null, 12.5, { pad: 1 }),
    y: axis(-4.2, 4.69, [-4, -2, 0, 2, 4], showY ? null : ['', '', '', '', ''], 12.5)
  }, groups.map((g, i) => dots(g, colors[i], 1.2)));
}
umapD({ x: 545, y: 320, w: 139, h: 100 }, [-4.22, 4.14], clusterCells, clusterColors, true);
umapD({ x: 699, y: 320, w: 135, h: 100 }, [-4.12, 4.25], codedCells(patientCodes, 3), patientColors, false);
umapD({ x: 848, y: 320, w: 137, h: 100 }, [-4.18, 4.16], codedCells(weekCodes, 7), weekColors, false);
function legendDots(names, colors, xs) {
  names.forEach((n, i) => {
    txt(n, xs[i], 298, 12.5);
    rect(xs[i] - 4, 305.3, 8, 8, `border-radius:50%;background:${colors[i]}`);
  });
}
txt('d', 528, 264, 22, { bold: true });
txt('Cluster', 611.7, 281, 12.6);
legendDots(clusterNames, clusterColors, [589.3, 604.3, 620, 635]);
txt('Patient', 756, 281, 12.6);
legendDots(patientNames, patientColors, [741.3, 756, 771]);
txt('Week', 925.3, 282, 12.6);
rect(877.7, 290.5, 89, 5, 'border:1.2px solid #222;border-bottom:none');
legendDots(weekNames, weekColors, [861.3, 883, 898.3, 913.7, 928.3, 943.3, 959]);
txt('UMAP_2', 518, 377, 12.5, { rot: true });
txt('UMAP_1', 770, 447, 12.5);

// ---- draw panel e ----
function cellImage(color) {
  const c = document.createElement('canvas');
  c.width = 4;
  c.height = 8;
  const g = c.getContext('2d');
  g.fillStyle = color;
  g.fillRect(0, 0, 4, 8);
  return c;
}
const heatPoints = heatBins.map(() => []);
heatRows.forEach((row, r) => row.split(' ').forEach((grp, g) => {
  [...grp].forEach((code, i) => heatPoints[+code].push([heatGroupStart[g] + i + 0.5, r + 0.5]));
}));
const heatBox = { x: 116, y: 517.3, w: 316.7, h: 439.4 };
const heatChart = plot(heatBox, 6, 2, 4, 4, {
  x: axis(0, 82, [], [], 10, { line: false, tick: 0 }),
  y: axis(0, heatRows.length, [], [], 10, { line: false, tick: 0, extra: { reverse: true } })
}, heatPoints.map((pts, i) => ({ data: pts, showLine: false, pointStyle: cellImage(heatBins[i]), pointRadius: 3, clip: false })));
// the source figure is a soft print, the cells get the same softness; gene labels sit on their own canvas and stay sharp
heatChart.canvas.style.filter = 'blur(0.8px)';
plot(heatBox, 112, 2, 4, 4, {
  x: axis(0, 82, [], [], 10, { line: false, tick: 0 }),
  y: axis(0, heatRows.length, heatGeneRows, heatGenes, 11.7, { line: false, tick: 8, pad: 4, style: 'italic', extra: { reverse: true } })
}, []);
txt('e', 14, 490, 22, { bold: true });
[[116, 59, 145.7, '#d55e00'], [176, 75.5, 211, '#1f66ae'], [252.5, 67.5, 284, '#c8207f'], [321, 111.7, 376, '#e69f00']].forEach((g, i) => {
  rect(g[0], 505.3, g[1], 7.4, `background:${g[3]}`);
  txt(heatGroups[i], g[2], 496, 12.8);
});
rect(347.7, 965.7, 60.6, 6.6, 'background:linear-gradient(90deg,#1010ff,#000 50%,#ffff10);border:1px solid #777');
txt('-2', 354, 980, 10);
txt('0', 378.3, 980, 10);
txt('2', 400, 980, 10);
txt('Expression value', 380, 990, 9.8);

// ---- draw panel f ----
function umapF(box, xr, codes, ring, ringColor, showX, showY, top) {
  const groups = codedCells(codes, 3);
  const sets = groups.map((g, i) => dots(g, exprColors[i], 0.95));
  sets.push(outline(ring, ringColor, 1.6, 0.4));
  plot(box, showY ? 30 : 6, showX ? 20 : 6, 6, 8, {
    x: axis(xr[0], xr[1], [-4, -2, 0, 2, 4], showX ? null : ['', '', '', '', ''], 12, { pad: 1, tick: 3 }),
    y: axis(-4.44, 5.39, [-2.5, 0, 2.5, 5], showY ? ['-2.5', '0', '2.5', '5.0'] : ['', '', '', ''], 11.5, { tick: 3 })
  }, sets);
  const barX = box.x + 141.7 + (showY ? 0 : 1);
  const barY = box.y + (showX ? 45 : 45.7);
  rect(barX, barY, 7, 30, 'background:linear-gradient(180deg,#2000ff,#d3d3d3)');
  txt(top, barX + 3.5, barY - 6, 12);
  txt('0', barX + 3.5, barY + 37, 12);
}
umapF({ x: 579, y: 497, w: 133.7, h: 87.3 }, [-4.47, 4.45], lef1Codes, lef1Outline, '#d55e00', false, true, '3');
umapF({ x: 750, y: 497, w: 133, h: 87.3 }, [-4.4, 4.4], gzmaCodes, gzmaOutline, '#1f66ae', false, false, '4');
umapF({ x: 579, y: 600, w: 133.7, h: 87.3 }, [-4.47, 4.45], cd69Codes, cd69Outline, '#c8207f', true, true, '5');
umapF({ x: 750, y: 600, w: 133, h: 87.3 }, [-4.4, 4.4], sellCodes, sellOutline, '#e69f00', true, false, '3');
txt('f', 514, 498, 22, { bold: true });
txt('LEF1', 588, 491.7, 12.8, { italic: true, left: true });
txt('GZMA', 756, 491.7, 12.8, { italic: true, left: true });
txt('CD69', 588, 597.7, 12.8, { italic: true, left: true });
txt('SELL', 756, 597.7, 12.8, { italic: true, left: true });
txt('UMAP_2', 542.7, 601.7, 12.5, { rot: true });
txt('UMAP_1', 734.7, 710, 12.5);

// ---- draw panel g ----
function sharePlot(box, values, color, fillColor, showX, showY) {
  const set = {
    data: values.map((v, i) => [i, v]), showLine: true, clip: false,
    fill: 'origin', backgroundColor: fillColor, borderColor: color, borderWidth: 1.7,
    pointRadius: 1.9, pointBorderWidth: 0, pointBackgroundColor: color,
    segment: {
      borderDash: c => c.p0DataIndex === 0 ? [3, 2] : undefined,
      borderWidth: c => c.p0DataIndex === 0 ? 1 : undefined
    }
  };
  plot(box, showY ? 34 : 4, showX ? 20 : 6, 6, 10, {
    x: axis(-0.74, 6.35, [0, 1, 2, 3, 4, 5, 6], showX ? stageLabels : ['', '', '', '', '', '', ''], 11.5, { pad: 2, tick: 3 }),
    y: axis(0, 100, [0, 25, 50, 75, 100], showY ? null : ['', '', '', '', ''], 10.5, { tick: 3 })
  }, [set]);
}
sharePlot({ x: 580, y: 734, w: 146.7, h: 107.7 }, naiveShare, '#d9541e', '#f5cfc0', false, true);
sharePlot({ x: 740, y: 734, w: 146.7, h: 107.7 }, cytotoxicShare, '#1a62a8', '#bcd3ea', false, false);
sharePlot({ x: 580, y: 852.7, w: 146.7, h: 106.6 }, aicdShare, '#c8207a', '#f0bfdc', true, true);
sharePlot({ x: 740, y: 852.7, w: 146.7, h: 106.6 }, memoryShare, '#e69a20', '#f9e2ab', true, false);
txt('g', 518, 730, 22, { bold: true });
txt('Naive', 590, 742.7, 13.5, { left: true });
txt('Cytotoxic', 750, 742.7, 13.5, { left: true });
txt('AICD', 587.7, 862.7, 13.5, { left: true });
txt('Memory', 750.7, 862.7, 13.5, { left: true });
txt('% of tetramer<sup>+</sup> CD4<sup>+</sup> T cells', 549.3, 841.7, 13, { rot: true });
txt('wks.', 891.7, 970, 11.5, { left: true });
[[612.3, 53.4, 639.3, 'Priming'], [671, 58.3, 698.7, 'Boosting'], [772, 54, 800, 'Priming'], [831, 58.3, 859.7, 'Boosting']].forEach(b => {
  rect(b[0], 974.5, b[1], 4, 'border:1.2px solid #333;border-top:none');
  txt(b[3], b[2], 986.5, 10.3);
});
</script>
</body>
</html>
